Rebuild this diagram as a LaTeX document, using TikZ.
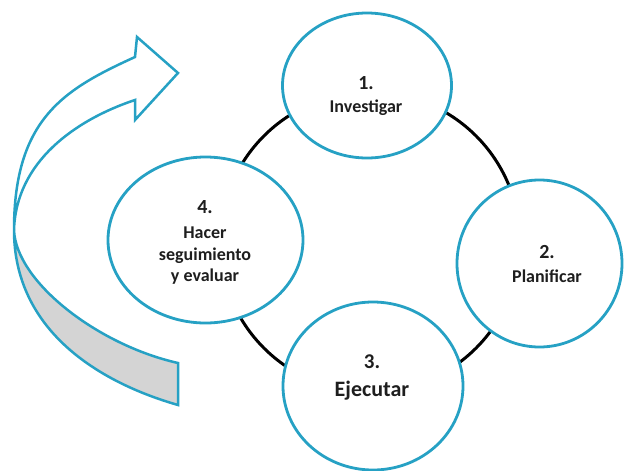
\documentclass[tikz,border=0pt]{standalone}
\usepackage{fontspec}
\setmainfont{Carlito}
\usetikzlibrary{shapes.geometric}
\definecolor{cblue}{RGB}{38,161,196}
\definecolor{cgray}{RGB}{212,212,212}
\definecolor{ctext}{RGB}{30,30,30}
\begin{document}
\begin{tikzpicture}[x=1pt,y=-1pt,
  stage/.style={ellipse, draw=cblue, line width=2.8pt, fill=white, inner sep=0pt},
  num/.style={font=\bfseries\fontsize{20}{22}\selectfont, text=ctext, anchor=base, inner sep=0pt},
  lab/.style={font=\bfseries\fontsize{18}{20}\selectfont, text=ctext, anchor=base, inner sep=0pt},
  big/.style={font=\bfseries\fontsize{22}{24}\selectfont, text=ctext, anchor=base, inner sep=0pt},
  ringline/.style={line width=3pt, black},
  arr/.style={draw=cblue, line width=2.5pt, line join=miter}]
\useasboundingbox (0,0) rectangle (624,471);
% ring
\coordinate (ringc) at (370,242);
\draw[ringline] (ringc) circle[radius=150pt];
% stages
\node[stage, minimum width=169pt, minimum height=145pt] (s1) at (367,85.5) {};
\node[stage, minimum width=165pt, minimum height=167pt] (s2) at (539.5,263.5) {};
\node[stage, minimum width=180pt, minimum height=168pt] (s3) at (373,386) {};
\node[stage, minimum width=195pt, minimum height=166pt] (s4) at (205.5,240) {};
% texts
\node[num] (n1) at (366,89) {1.};
\node[lab] (l1) at (366,112) {Investigar};
\node[num] (n2) at (547,258) {2.};
\node[lab] (l2) at (547,282) {Planificar};
\node[num, font=\bfseries\fontsize{21}{23}\selectfont] (n3) at (372,368) {3.};
\node[big] (l3) at (372,396) {Ejecutar};
\node[num] (n4) at (205,213) {4.};
\node[lab] (l4a) at (205,238) {Hacer};
\node[lab] (l4b) at (205,260) {seguimiento};
\node[lab] (l4c) at (205,281) {y evaluar};
% curved arrow: back (gray) part
\path[arr, fill=cgray] (14,230) .. controls (14,330) and (98,382) .. (178,405)
  -- (178,363) .. controls (98,345) and (16,282) .. (14,230) -- cycle;
% curved arrow: front (white) part with head
\path[arr, fill=white] (135,57) -- (137,37) -- (178,73) -- (135,120) -- (135,100)
  .. controls (75,120) and (16,162) .. (14,230)
  .. controls (14,118) and (65,89) .. (135,57) -- cycle;
\end{tikzpicture}
\end{document}
